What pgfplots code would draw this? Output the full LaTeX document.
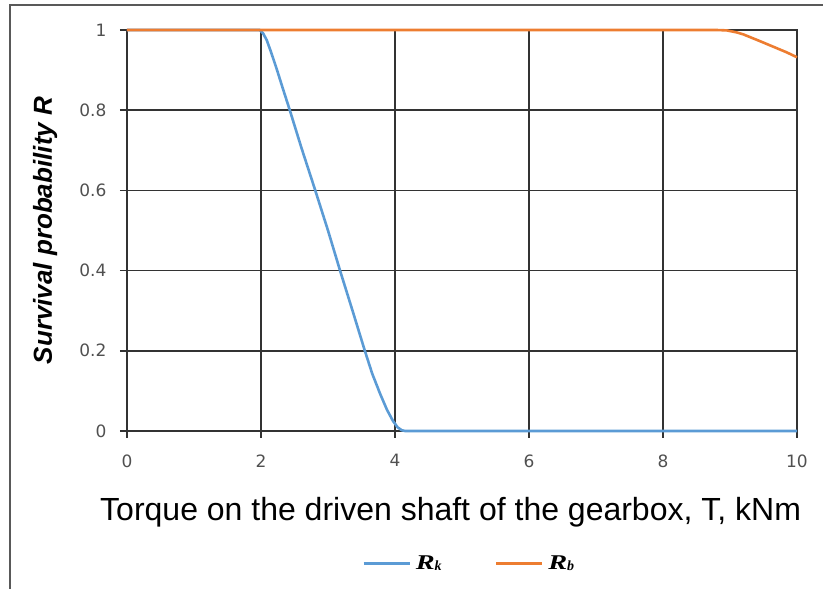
\documentclass[border=0pt]{standalone}
\usepackage{fontspec}
\setmainfont{Liberation Sans}
\newfontfamily\tnr{Liberation Serif}
\newfontfamily\ticksfont{DejaVu Sans}
\usepackage{graphicx}
\usepackage{pgfplots}
\pgfplotsset{compat=1.18}

\definecolor{rkblue}{HTML}{5B9BD5}
\definecolor{rborange}{HTML}{ED7D31}
\definecolor{gridgray}{HTML}{333333}
\definecolor{ticktext}{HTML}{505050}

% legend symbol: bold italic R with a small index
\newcommand{\Rsym}[1]{\scalebox{1.35}[1]{R}\raisebox{-0.1ex}{\fontsize{14}{16}\selectfont #1}}

\begin{document}
\begin{tikzpicture}[x=1pt,y=1pt]
% page extent and the outer frame (left and top edges)
\path[use as bounding box] (0,0) rectangle (823,589);
\draw[line width=1.4pt, black!65] (10,0) -- (10,584) -- (823,584);

\begin{axis}[
  at={(127pt,158pt)}, anchor=south west,
  scale only axis, width=670pt, height=401pt,
  xmin=0, xmax=10, ymin=0, ymax=1,
  xtick={0,2,...,10}, ytick={0,0.2,...,1},
  yticklabels={0,0.2,0.4,0.6,0.8,1},
  grid=major,
  major grid style={line width=1.5pt, gridgray},
  axis line style={line width=1.5pt, gridgray},
  tick style={line width=1.5pt, gridgray},
  tick align=outside, major tick length=7pt,
  xtick pos=bottom, ytick pos=left,
  /pgf/number format/assume math mode=true,
  ticklabel style={font=\ticksfont\fontsize{17}{19}\selectfont, text=ticktext},
  xticklabel style={yshift=-13pt},
  yticklabel style={xshift=-10pt},
  xlabel={Torque on the driven shaft of the gearbox, T, kNm},
  xlabel style={at={(axis description cs:0.483,-0.202)}, anchor=center,
    font=\fontsize{32}{35}\selectfont},
  ylabel={Survival probability R},
  ylabel style={at={(axis description cs:-0.122,0.5)}, anchor=center, rotate=0,
    font=\fontsize{26}{28}\selectfont\bfseries\itshape},
  legend columns=2,
  legend style={at={(axis description cs:0.513,-0.33)}, anchor=center,
    draw=none, fill=none, font=\tnr\fontsize{21}{23}\selectfont\bfseries\itshape,
    nodes={inner xsep=5pt},
    /tikz/every even column/.append style={column sep=48pt}},
  legend image code/.code={\draw[#1, line width=2.6pt] (0pt,0pt) -- (46pt,0pt);},
  clip=false,
]
% R_k: survival probability of the gear teeth
\addplot[rkblue, line width=2.6pt] coordinates {
  (0,1) (1,1) (1.98,1) (2.03,0.992) (2.085,0.975) (2.15,0.945) (2.23,0.905)
  (2.33,0.852) (2.43,0.8) (2.6,0.708) (2.81,0.6) (3.0,0.5) (3.18,0.4)
  (3.37,0.298) (3.55,0.2) (3.66,0.143) (3.78,0.092) (3.88,0.053)
  (3.97,0.025) (4.04,0.009) (4.1,0.002) (4.15,0) (5,0) (10,0)
};
\addlegendentry{\Rsym{k}}
% R_b: survival probability of the bearings
\addplot[rborange, line width=2.6pt] coordinates {
  (0,1) (4,1) (8.8,1) (8.95,0.999) (9.1,0.994) (9.2,0.989) (9.45,0.972)
  (9.65,0.958) (9.85,0.944) (10,0.932)
};
\addlegendentry{\Rsym{b}}
\end{axis}
\end{tikzpicture}
\end{document}
